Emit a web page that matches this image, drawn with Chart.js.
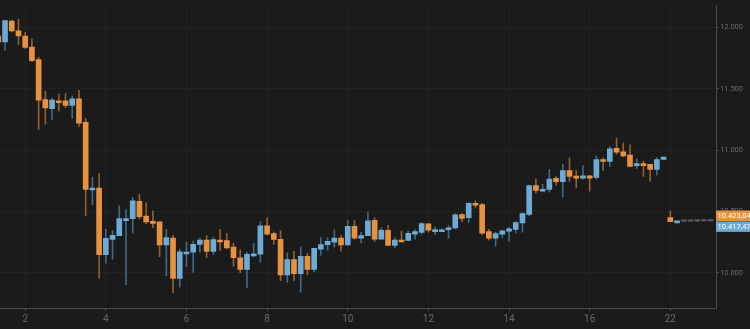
<!DOCTYPE html>
<html>
<head>
<meta charset="utf-8">
<script src="https://cdn.jsdelivr.net/npm/chart.js@4.4.1/dist/chart.umd.min.js"></script>
<style>
  html, body { margin: 0; padding: 0; background: #1b1b1b; }
  #wrap { width: 750px; height: 329px; }
</style>
</head>
<body>
<div id="wrap"><canvas id="chart" width="750" height="329"></canvas></div>
<script>
// 4h candles, index -1 is the partly hidden one on the left edge
const firstIndex = -1;
const openV = [11930, 11882, 12052, 11972, 11930, 11840, 11738, 11412, 11338, 11402, 11402, 11364, 11418, 11226, 10676, 10692,
  10148, 10274, 10304, 10426, 10442, 10584, 10464, 10420, 10416, 10228, 10284, 9956, 10154, 10170, 10232, 10268,
  10176, 10268, 10264, 10210, 10124, 10028, 10138, 10152, 10384, 10320, 10274, 9984, 10108, 9994, 10136, 10028,
  10194, 10230, 10250, 10284, 10228, 10380, 10284, 10304, 10428, 10276, 10348, 10224, 10268, 10264, 10316, 10330,
  10400, 10336, 10336, 10352, 10366, 10476, 10450, 10568, 10556, 10336, 10284, 10316, 10340, 10354, 10408, 10476,
  10712, 10666, 10680, 10770, 10744, 10834, 10788, 10772, 10792, 10778, 10924, 10908, 11016, 10986, 10960, 10874,
  10890, 10884, 10844, 10924, 10450, 10408, 10421, 10421, 10422, 10423, 10423];
const highV = [11946, 12058, 12060, 12066, 11960, 11906, 11756, 11482, 11424, 11456, 11460, 11440, 11488, 11258, 10778, 10810,
  10356, 10346, 10546, 10516, 10616, 10642, 10572, 10506, 10416, 10356, 10306, 10194, 10250, 10260, 10284, 10304,
  10288, 10356, 10320, 10244, 10188, 10170, 10240, 10418, 10448, 10332, 10346, 10164, 10176, 10212, 10160, 10200,
  10288, 10286, 10352, 10304, 10426, 10426, 10330, 10498, 10448, 10368, 10388, 10288, 10340, 10340, 10354, 10410,
  10404, 10376, 10360, 10386, 10484, 10484, 10572, 10588, 10568, 10356, 10330, 10348, 10372, 10418, 10490, 10716,
  10764, 10722, 10842, 10784, 10884, 10938, 10832, 10874, 10794, 10954, 10938, 11028, 11098, 11058, 11044, 10930,
  10912, 10884, 10940, 10944, 10504, 10424, 10421, 10421, 10422, 10423, 10423];
const lowV = [11866, 11812, 11964, 11860, 11828, 11722, 11168, 11212, 11250, 11320, 11346, 11258, 11194, 10464, 10556, 9956,
  10080, 10112, 10304, 9904, 10324, 10442, 10400, 10368, 10132, 9978, 9840, 9884, 10052, 10004, 10170, 10124,
  10148, 10184, 10194, 10056, 10002, 9882, 10132, 10088, 10308, 10232, 9938, 9922, 9938, 9844, 9986, 10010,
  10144, 10186, 10210, 10178, 10224, 10276, 10244, 10304, 10256, 10276, 10224, 10204, 10252, 10264, 10276, 10316,
  10332, 10312, 10336, 10282, 10358, 10416, 10410, 10530, 10312, 10266, 10218, 10290, 10258, 10324, 10332, 10464,
  10652, 10666, 10658, 10712, 10620, 10746, 10692, 10764, 10666, 10764, 10836, 10868, 10968, 10944, 10868, 10852,
  10786, 10748, 10796, 10924, 10418, 10408, 10421, 10421, 10422, 10423, 10423];
const closeV = [11882, 12056, 11972, 11930, 11836, 11730, 11408, 11344, 11408, 11386, 11364, 11418, 11220, 10680, 10692, 10148,
  10282, 10306, 10442, 10442, 10588, 10458, 10416, 10404, 10228, 10288, 9956, 10172, 10170, 10234, 10268, 10176,
  10272, 10252, 10204, 10124, 10028, 10152, 10156, 10384, 10316, 10272, 9984, 10108, 9994, 10136, 10028, 10200,
  10232, 10258, 10284, 10228, 10380, 10284, 10304, 10424, 10276, 10348, 10224, 10268, 10252, 10322, 10336, 10402,
  10348, 10354, 10352, 10368, 10474, 10444, 10568, 10552, 10324, 10284, 10320, 10344, 10360, 10410, 10484, 10712,
  10672, 10682, 10764, 10744, 10834, 10786, 10772, 10792, 10772, 10924, 10908, 11010, 10984, 10954, 10868, 10890,
  10874, 10844, 10924, 10944, 10418, 10424, 10421, 10421, 10422, 10423, 10423];

const dayTicks = [3, 15, 27, 39, 51, 63, 75, 87, 99];
const dayLabels = ['2', '4', '6', '8', '10', '12', '14', '16', '22'];
const priceTicks = [10000, 10500, 11000, 11500, 12000];
const askPrice = 10423.04;
const bidPrice = 10417.47;

const UP = '#6eaad6', DOWN = '#e8913f';
const UP_WICK = '#3f6987', DOWN_WICK = '#93602f';

function dots(n) {
  return String(n).replace(/\B(?=(\d{3})+(?!\d))/g, '.');
}
function priceFmt(p) {
  const parts = p.toFixed(2).split('.');
  return dots(parts[0]) + ',' + parts[1];
}

const candleIdx = openV.map((_, i) => firstIndex + i);
const bodyColor = i => openV[i] === closeV[i] ? '#5d5d5d' : (closeV[i] > openV[i] ? UP : DOWN);
const wickColor = i => closeV[i] >= openV[i] ? UP_WICK : DOWN_WICK;

const priceBoxes = {
  id: 'priceBoxes',
  afterDraw(chart) {
    const ctx = chart.ctx;
    const ys = chart.scales.y;
    const left = chart.chartArea.right;
    const ya = ys.getPixelForValue(askPrice);
    const yb = ys.getPixelForValue(bidPrice);
    ctx.save();
    ctx.font = '7.6px Roboto';
    ctx.textBaseline = 'middle';
    ctx.fillStyle = DOWN;
    ctx.fillRect(left, ya - 10.5, 34, 10.5);
    ctx.fillStyle = UP;
    ctx.fillRect(left, yb - 0.3, 34, 10.5);
    ctx.fillStyle = '#ffffff';
    ctx.fillText(priceFmt(askPrice), left + 1.5, ya - 5);
    ctx.fillText(priceFmt(bidPrice), left + 1.5, yb + 5.2);
    ctx.restore();
  }
};

new Chart(document.getElementById('chart'), {
  type: 'bar',
  data: {
    datasets: [{
      label: 'body',
      order: 0,
      data: candleIdx.map((k, i) => ({x: k, y: [openV[i], closeV[i]]})),
      backgroundColor: ctx => bodyColor(ctx.dataIndex),
      barThickness: 5,
      minBarLength: 1.5,
      grouped: false,
      borderWidth: 0
    }, {
      label: 'wick',
      order: 1,
      data: candleIdx.map((k, i) => ({x: k, y: [lowV[i], highV[i]]})),
      backgroundColor: ctx => wickColor(ctx.dataIndex),
      barThickness: 1,
      grouped: false,
      borderWidth: 0
    }]
  },
  options: {
    responsive: false,
    animation: false,
    layout: {padding: 0},
    plugins: {legend: {display: false}, tooltip: {enabled: false}},
    scales: {
      x: {
        type: 'linear',
        offset: false,
        min: -0.75,
        max: 105.8,
        afterBuildTicks: s => { s.ticks = dayTicks.map(v => ({value: v})); },
        afterFit: s => { s.height = 21; },
        grid: {color: '#222222', tickColor: '#4a4a4a', tickLength: 3, offset: false},
        border: {color: '#4a4a4a'},
        ticks: {
          autoSkip: false, maxRotation: 0, padding: 2,
          color: '#6a6a6a', font: {family: 'Roboto', size: 10},
          callback: (v, i) => dayLabels[i]
        }
      },
      y: {
        position: 'right',
        min: 9714.4,
        max: 12178.4,
        afterBuildTicks: s => { s.ticks = priceTicks.map(v => ({value: v})); },
        afterFit: s => { s.width = 34; },
        grid: {color: '#222222', tickColor: '#4a4a4a', tickLength: 3},
        border: {color: '#4a4a4a'},
        ticks: {
          padding: 1,
          color: '#6a6a6a', font: {family: 'Roboto', size: 7.5},
          callback: v => dots(v)
        }
      }
    }
  },
  plugins: [priceBoxes]
});
</script>
</body>
</html>
